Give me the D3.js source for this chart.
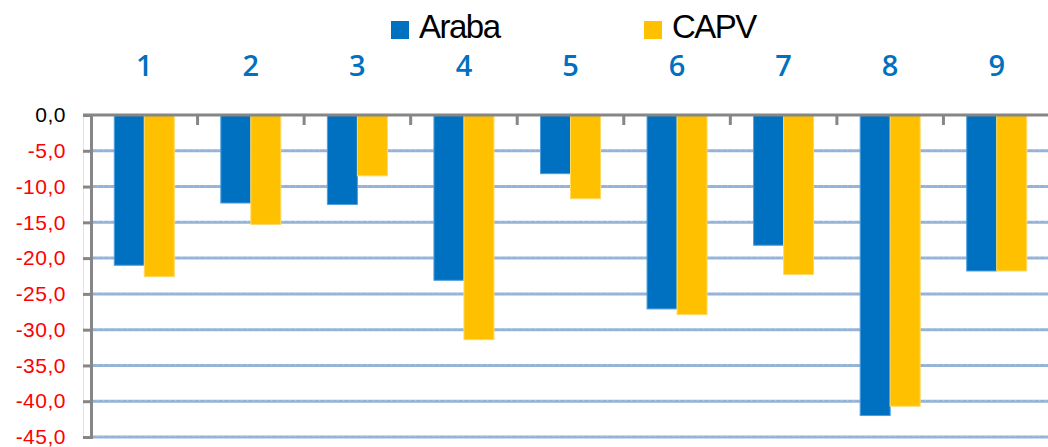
<!DOCTYPE html>
<html>
<head>
<meta charset="utf-8">
<script src="https://cdn.jsdelivr.net/npm/d3@7"></script>
<style>
  html, body { margin: 0; padding: 0; background: #fff; }
  svg { display: block; }
</style>
</head>
<body>
<svg id="chart" width="1048" height="447"></svg>
<script>
// Categories and series values
const categories = ["1", "2", "3", "4", "5", "6", "7", "8", "9"];
const seriesNames = ["Araba", "CAPV"];
const araba = [-21.0, -12.3, -12.5, -23.1, -8.2, -27.1, -18.2, -42.0, -21.8];
const capv  = [-22.6, -15.3, -8.5, -31.4, -11.7, -27.9, -22.3, -40.7, -21.8];
const yTicks = [0, -5, -10, -15, -20, -25, -30, -35, -40, -45];

const colors = { Araba: "#0070c0", CAPV: "#ffc000" };
const strokes = { Araba: "#4a9ee0", CAPV: "#ffd966" };

const svg = d3.select("#chart");
const plotLeft = 91, plotRight = 1050, plotTop = 115, plotBottom = 437;

const y = d3.scaleLinear().domain([0, -45]).range([plotTop, plotBottom]);
const x0 = d3.scaleBand().domain(categories).range([plotLeft, plotRight])
  .paddingInner(0.437).paddingOuter(0.2185);
const x1 = d3.scaleBand().domain(seriesNames).range([0, x0.bandwidth()]);

const data = categories.map((c, i) => ({ cat: c, values: [
  { name: "Araba", v: araba[i] }, { name: "CAPV", v: capv[i] } ] }));

// faint line just left of the axis
svg.append("line").attr("x1", 83.5).attr("x2", 83.5).attr("y1", plotTop).attr("y2", plotBottom)
  .attr("stroke", "#e2e2e2").attr("stroke-width", 1);

// horizontal gridlines
const grid = svg.append("g");
yTicks.filter(t => t !== 0).forEach(t => {
  grid.append("line").attr("x1", plotLeft).attr("x2", 1048)
    .attr("y1", y(t)).attr("y2", y(t))
    .attr("stroke", "#95b3d7").attr("stroke-width", 3);
  grid.append("line").attr("x1", plotLeft).attr("x2", 1048)
    .attr("y1", y(t) - 0.8).attr("y2", y(t) - 0.8)
    .attr("stroke", "#c6d6ea").attr("stroke-width", 0.8)
    .attr("stroke-dasharray", "1,5");
});

// bars
const groups = svg.append("g").selectAll("g").data(data).join("g")
  .attr("transform", d => `translate(${x0(d.cat)},0)`);
groups.selectAll("rect").data(d => d.values).join("rect")
  .attr("x", d => x1(d.name))
  .attr("y", y(0))
  .attr("width", x1.bandwidth())
  .attr("height", d => y(d.v) - y(0))
  .attr("fill", d => colors[d.name])
  .attr("stroke", d => strokes[d.name])
  .attr("stroke-width", 1);

// y axis
const yAxis = d3.axisLeft(y).tickValues(yTicks).tickSize(8)
  .tickFormat(d => d3.format(".1f")(d).replace("−", "-").replace(".", ","));
const ya = svg.append("g").attr("transform", `translate(${plotLeft},0)`).call(yAxis);
ya.select(".domain").attr("stroke", "#868686").attr("stroke-width", 3);
ya.selectAll(".tick line").attr("stroke", "#868686").attr("stroke-width", 3);
ya.selectAll(".tick text")
  .attr("x", -25)
  .attr("font-family", "'Liberation Sans', Arial, sans-serif")
  .attr("font-size", 21)
  .attr("letter-spacing", "0.5")
  .attr("fill", d => d === 0 ? "#000" : "#ff0000");

// x axis along zero with ticks at category boundaries
const xa = svg.append("g");
xa.append("line").attr("x1", plotLeft - 8).attr("x2", 1048).attr("y1", y(0)).attr("y2", y(0))
  .attr("stroke", "#868686").attr("stroke-width", 3);
const step = x0.step();
categories.slice(1).forEach(c => {
  const bx = x0(c) - x0.paddingInner() * step / 2;
  xa.append("line").attr("x1", bx).attr("x2", bx).attr("y1", y(0)).attr("y2", y(0) + 10)
    .attr("stroke", "#868686").attr("stroke-width", 3);
});

// category labels above the plot
svg.append("g").selectAll("text").data(categories).join("text")
  .attr("x", d => x0(d) + x0.bandwidth() / 2)
  .attr("y", 76)
  .attr("text-anchor", "middle")
  .attr("font-family", "'Open Sans', 'Liberation Sans', sans-serif")
  .attr("font-weight", 600)
  .attr("font-size", 29)
  .attr("fill", "#0070c0")
  .text(d => d);

// legend
const legend = [
  { name: "Araba", sx: 391, tx: 419 },
  { name: "CAPV", sx: 644, tx: 672 }
];
const lg = svg.append("g");
legend.forEach(l => {
  lg.append("rect").attr("x", l.sx).attr("y", 21).attr("width", 18).attr("height", 18)
    .attr("fill", colors[l.name]);
  lg.append("text").attr("x", l.tx).attr("y", 38)
    .attr("font-family", "'Liberation Sans', Arial, sans-serif")
    .attr("font-size", 33)
    .attr("letter-spacing", "-1.5")
    .attr("fill", "#000")
    .text(l.name);
});
</script>
</body>
</html>
